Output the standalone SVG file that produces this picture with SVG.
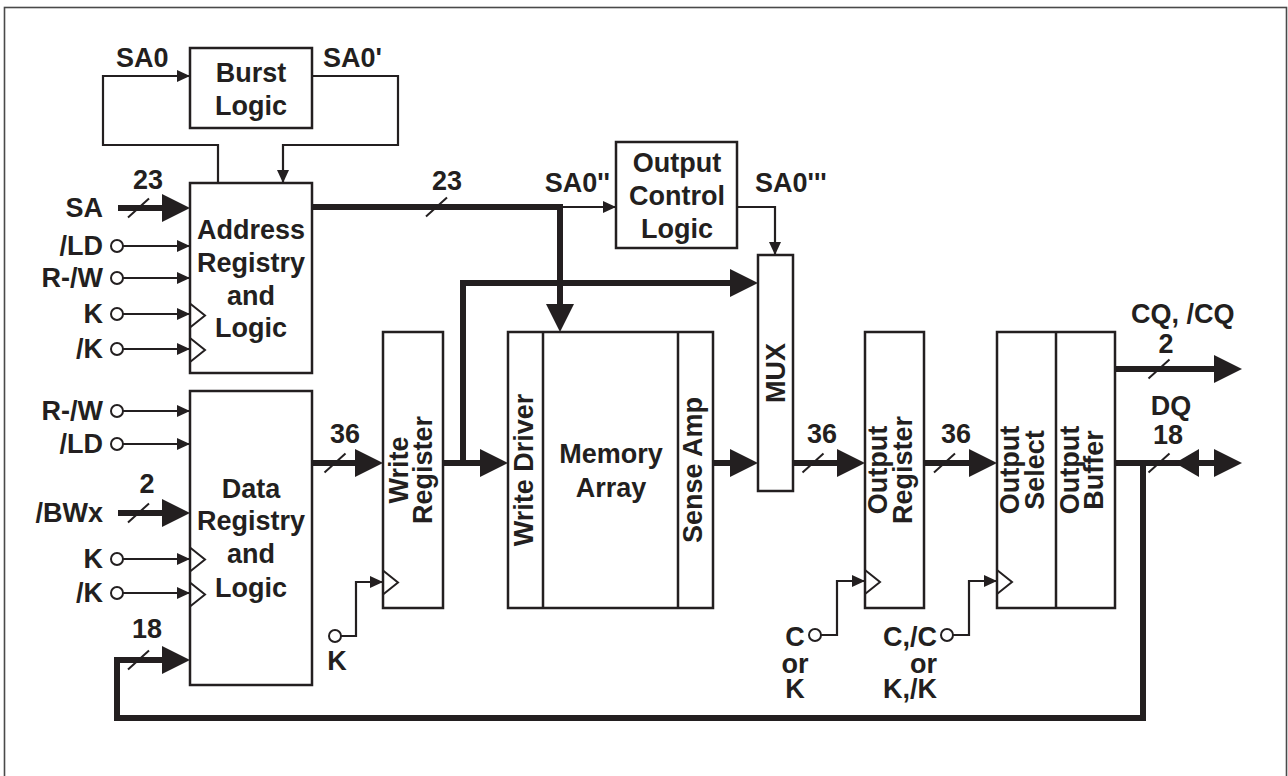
<svg xmlns="http://www.w3.org/2000/svg" xmlns:xlink="http://www.w3.org/1999/xlink" width="1288" height="776" viewBox="0 0 1288 776">
<style>
  .t { font-family: "Liberation Sans", Arial, sans-serif; font-weight: bold; font-size: 27px; fill: #231f20; }
  .m { text-anchor: middle; }
  .e { text-anchor: end; }
  .box { fill: #ffffff; stroke: #231f20; stroke-width: 2.5; }
  .div { fill: none; stroke: #231f20; stroke-width: 2.5; }
  .clk { fill: none; stroke: #231f20; stroke-width: 2; stroke-linejoin: miter; }
  .thin { fill: none; stroke: #231f20; stroke-width: 2.2; }
  .thick { fill: none; stroke: #231f20; stroke-width: 6; stroke-linejoin: miter; }
  .pin { fill: #ffffff; stroke: #231f20; stroke-width: 2; }
  .sl { fill: none; stroke: #231f20; stroke-width: 2; }
  .ah { fill: #231f20; }
</style>
<defs>
  <marker id="as" markerUnits="userSpaceOnUse" markerWidth="20" markerHeight="20" refX="0" refY="0" orient="auto" viewBox="-15 -10 20 20" overflow="visible">
    <path class="ah" d="M-13,-6 L0,0 L-13,6 z"/>
  </marker>
  <marker id="ab" markerUnits="userSpaceOnUse" markerWidth="40" markerHeight="40" refX="0" refY="0" orient="auto" viewBox="-5 -20 40 40" overflow="visible">
    <path class="ah" d="M0,-14 L28,0 L0,14 z"/>
  </marker>
  <path id="slash" class="sl" d="M-10.5,9.5 L10.5,-9.5"/>
  <path id="tri" class="clk" d="M0,-12 L15,0 L0,12"/>
</defs>

<rect x="4.5" y="7.5" width="1282" height="780" fill="#ffffff" stroke="#4a4a4a" stroke-width="1.6"/>

<g id="connectors">
  <!-- burst loop -->
  <path class="thin" d="M218,183 V145 H103 V76 H190" marker-end="url(#as)"/>
  <path class="thin" d="M312,76 H398 V145 H283 V183" marker-end="url(#as)"/>
  <!-- address inputs -->
  <path class="thin" d="M123,246 H190" marker-end="url(#as)"/>
  <path class="thin" d="M123,278 H190" marker-end="url(#as)"/>
  <path class="thin" d="M123,314 H190" marker-end="url(#as)"/>
  <path class="thin" d="M123,349 H190" marker-end="url(#as)"/>
  <!-- data inputs -->
  <path class="thin" d="M123,411 H190" marker-end="url(#as)"/>
  <path class="thin" d="M123,444 H190" marker-end="url(#as)"/>
  <path class="thin" d="M123,559 H190" marker-end="url(#as)"/>
  <path class="thin" d="M123,593 H190" marker-end="url(#as)"/>
  <!-- SA0'' and SA0''' -->
  <path class="thin" d="M560,207 H616" marker-end="url(#as)"/>
  <path class="thin" d="M737,207 H775 V255" marker-end="url(#as)"/>
  <!-- clocks -->
  <path class="thin" d="M341,636 H356 V582 H383" marker-end="url(#as)"/>
  <path class="thin" d="M821,635 H837 V581 H865" marker-end="url(#as)"/>
  <path class="thin" d="M953,635 H969 V581 H997" marker-end="url(#as)"/>

  <!-- thick buses -->
  <path class="thick" d="M118,208 H162" marker-end="url(#ab)"/>
  <path class="thick" d="M118,513 H162" marker-end="url(#ab)"/>
  <path class="thick" d="M1143,463 V718 H117 V660 H162" marker-end="url(#ab)"/>
  <path class="thick" d="M312,207 H560 V304" marker-end="url(#ab)"/>
  <path class="thick" d="M312,463 H355" marker-end="url(#ab)"/>
  <path class="thick" d="M443,463 H480" marker-end="url(#ab)"/>
  <path class="thick" d="M463,463 V283 H730" marker-end="url(#ab)"/>
  <path class="thick" d="M713,463 H730" marker-end="url(#ab)"/>
  <path class="thick" d="M793,463 H837" marker-end="url(#ab)"/>
  <path class="thick" d="M924,463 H969" marker-end="url(#ab)"/>
  <path class="thick" d="M1115,369 H1214" marker-end="url(#ab)"/>
  <path class="thick" d="M1115,463 H1214" marker-end="url(#ab)"/>
  <polygon class="ah" points="1175,463 1199,449 1199,477"/>

  <!-- bus width slashes -->
  <use xlink:href="#slash" x="138.5" y="208"/>
  <use xlink:href="#slash" x="138.5" y="513"/>
  <use xlink:href="#slash" x="138.5" y="660"/>
  <use xlink:href="#slash" x="436.5" y="207"/>
  <use xlink:href="#slash" x="335" y="463"/>
  <use xlink:href="#slash" x="813" y="463"/>
  <use xlink:href="#slash" x="944.5" y="463"/>
  <use xlink:href="#slash" x="1159" y="369"/>
  <use xlink:href="#slash" x="1159" y="463"/>

  <!-- bus labels -->
  <text class="t m" x="148" y="189">23</text>
  <text class="t m" x="447" y="190">23</text>
  <text class="t m" x="147" y="493">2</text>
  <text class="t m" x="147" y="638">18</text>
  <text class="t m" x="345" y="443">36</text>
  <text class="t m" x="822" y="443">36</text>
  <text class="t m" x="956" y="443">36</text>
  <text class="t m" x="1166" y="353">2</text>
  <text class="t m" x="1168" y="444">18</text>
  <text class="t" x="116" y="67">SA0</text>
  <text class="t" x="323" y="67">SA0'</text>
  <text class="t e" x="610" y="192">SA0''</text>
  <text class="t" x="755" y="192">SA0'''</text>
</g>

<g id="signals">
  <text class="t e" x="103" y="217">SA</text>
  <circle class="pin" cx="117" cy="246" r="6"/><text class="t e" x="103" y="255">/LD</text>
  <circle class="pin" cx="117" cy="278" r="6"/><text class="t e" x="103" y="287">R-/W</text>
  <circle class="pin" cx="117" cy="314" r="6"/><text class="t e" x="103" y="323">K</text>
  <circle class="pin" cx="117" cy="349" r="6"/><text class="t e" x="103" y="358">/K</text>
  <circle class="pin" cx="117" cy="411" r="6"/><text class="t e" x="103" y="420">R-/W</text>
  <circle class="pin" cx="117" cy="444" r="6"/><text class="t e" x="103" y="453">/LD</text>
  <text class="t e" x="103" y="522">/BWx</text>
  <circle class="pin" cx="117" cy="559" r="6"/><text class="t e" x="103" y="568">K</text>
  <circle class="pin" cx="117" cy="593" r="6"/><text class="t e" x="103" y="602">/K</text>
  <circle class="pin" cx="335" cy="636" r="6"/><text class="t m" x="337" y="670">K</text>
  <circle class="pin" cx="815" cy="635" r="6"/>
  <text class="t m" x="795" y="646">C</text>
  <text class="t m" x="795" y="673">or</text>
  <text class="t m" x="795" y="698">K</text>
  <circle class="pin" cx="947" cy="635" r="6"/>
  <text class="t e" x="937" y="646">C,/C</text>
  <text class="t e" x="937" y="673">or</text>
  <text class="t e" x="937" y="698">K,/K</text>
  <text class="t" x="1131" y="323">CQ, /CQ</text>
  <text class="t m" x="1171" y="415">DQ</text>
</g>

<g id="burst-logic">
  <rect class="box" x="190" y="48" width="122" height="80"/>
  <text class="t m" x="251" y="82">Burst</text>
  <text class="t m" x="251" y="115">Logic</text>
</g>

<g id="address-registry">
  <rect class="box" x="190" y="183" width="122" height="190"/>
  <text class="t m" x="251" y="239">Address</text>
  <text class="t m" x="251" y="272">Registry</text>
  <text class="t m" x="251" y="305">and</text>
  <text class="t m" x="251" y="337">Logic</text>
  <use xlink:href="#tri" x="190" y="315.5"/>
  <use xlink:href="#tri" x="190" y="350"/>
</g>

<g id="data-registry">
  <rect class="box" x="190" y="391" width="122" height="294"/>
  <text class="t m" x="251" y="498">Data</text>
  <text class="t m" x="251" y="530">Registry</text>
  <text class="t m" x="251" y="563">and</text>
  <text class="t m" x="251" y="597">Logic</text>
  <use xlink:href="#tri" x="190" y="559.5"/>
  <use xlink:href="#tri" x="190" y="594.5"/>
</g>

<g id="write-register">
  <rect class="box" x="383" y="332" width="60" height="276"/>
  <text class="t m" transform="translate(408,470) rotate(-90)">Write</text>
  <text class="t m" transform="translate(432,470) rotate(-90)">Register</text>
  <use xlink:href="#tri" x="383" y="582.5"/>
</g>

<g id="memory-array">
  <rect class="box" x="508" y="332" width="205" height="276"/>
  <line class="div" x1="543" y1="332" x2="543" y2="608"/>
  <line class="div" x1="678" y1="332" x2="678" y2="608"/>
  <text class="t m" transform="translate(533,470) rotate(-90)">Write Driver</text>
  <text class="t m" transform="translate(702,470) rotate(-90)">Sense Amp</text>
  <text class="t m" x="611" y="463">Memory</text>
  <text class="t m" x="611" y="497">Array</text>
</g>

<g id="output-control-logic">
  <rect class="box" x="616" y="142" width="121" height="106"/>
  <text class="t m" x="677" y="172">Output</text>
  <text class="t m" x="677" y="205">Control</text>
  <text class="t m" x="677" y="238">Logic</text>
</g>

<g id="mux">
  <rect class="box" x="758" y="255" width="35" height="236"/>
  <text class="t m" transform="translate(785,373) rotate(-90)">MUX</text>
</g>

<g id="output-register">
  <rect class="box" x="865" y="332" width="59" height="276"/>
  <text class="t m" transform="translate(887,470) rotate(-90)">Output</text>
  <text class="t m" transform="translate(912,470) rotate(-90)">Register</text>
  <use xlink:href="#tri" x="865" y="582"/>
</g>

<g id="output-select-buffer">
  <rect class="box" x="997" y="332" width="118" height="276"/>
  <line class="div" x1="1056" y1="332" x2="1056" y2="608"/>
  <text class="t m" transform="translate(1019,470) rotate(-90)">Output</text>
  <text class="t m" transform="translate(1044,470) rotate(-90)">Select</text>
  <text class="t m" transform="translate(1079,470) rotate(-90)">Output</text>
  <text class="t m" transform="translate(1103,470) rotate(-90)">Buffer</text>
  <use xlink:href="#tri" x="997" y="582"/>
</g>
</svg>
